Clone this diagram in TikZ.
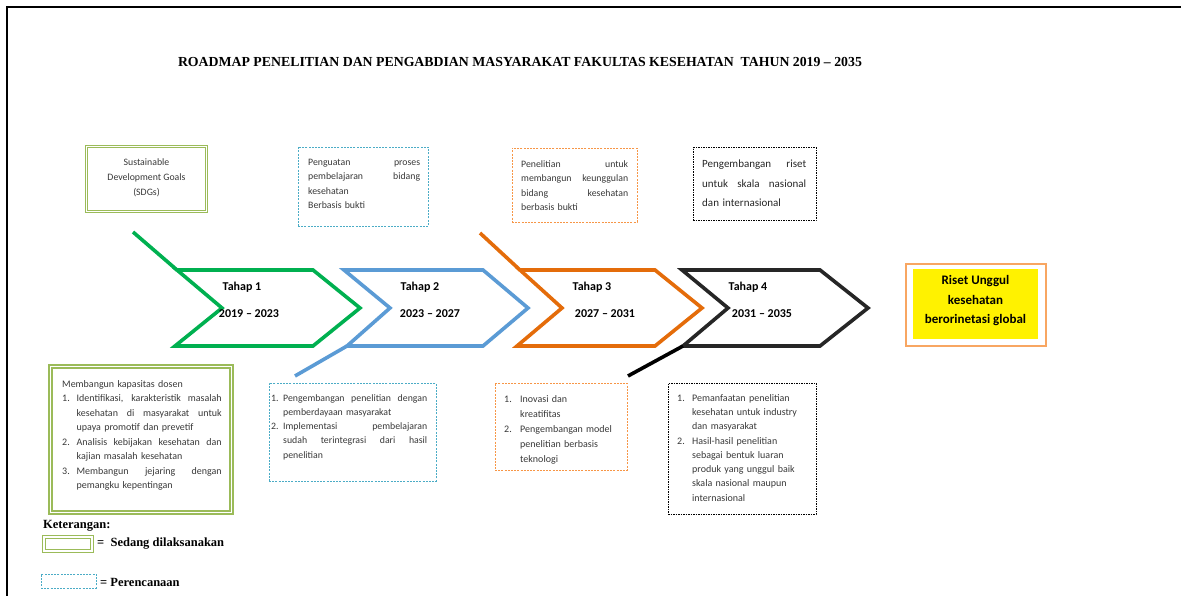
\documentclass[tikz,border=0pt]{standalone}
\usepackage{fontspec}
\setmainfont{Carlito}
\newfontfamily\serifb[Ligatures=TeX]{Liberation Serif}
\definecolor{cgreen}{HTML}{00B050}
\definecolor{cblue}{HTML}{5B9BD5}
\definecolor{corange}{HTML}{E46C0A}
\definecolor{cblack}{HTML}{262626}
\definecolor{olive}{HTML}{9BBB59}
\definecolor{aqua}{HTML}{4BACC6}
\definecolor{lorange}{HTML}{F79646}
\definecolor{gtext}{HTML}{383838}
\newcommand{\fs}[2]{\fontsize{#1}{#2}\selectfont}
\newcommand{\J}[2]{\leavevmode\hbox to #1{\spaceskip=0.22em plus 1fil\relax #2}}
\begin{document}
\begin{tikzpicture}[x=1pt,y=-1pt,
  chev/.style={line width=3.6pt},
  dbox/.style={draw=#1,line width=0.9pt,dash pattern=on 2pt off 1.2pt},
  txt/.style={inner sep=0pt,anchor=north west,align=left,text=gtext},
  tlabel/.style={inner sep=0pt,font=\bfseries\fs{12}{14},text=black},
  leg/.style={inner sep=0pt,anchor=west,font=\serifb\bfseries\fs{12.5}{14}}]
\useasboundingbox (0,0) rectangle (1181,596);
% frame
\draw[line width=2.5pt] (7,596) -- (7,7) -- (1181,7);
% title
\node[inner sep=0pt] (title) at (520,62) {\resizebox{684pt}{!}{\serifb\bfseries ROADMAP PENELITIAN DAN PENGABDIAN MASYARAKAT FAKULTAS KESEHATAN \ TAHUN 2019 – 2035}};
% top boxes
\node[draw=olive,line width=1.3pt,double=white,double distance=1.2pt,minimum width=120pt,minimum height=65pt,inner sep=0pt] (sdg) at (146.5,179) {};
\node[inner sep=0pt,align=center,font=\fs{9.8}{14.8},text=gtext] (sdgt) at (146.5,178) {Sustainable\\Development Goals\\(SDGs)};
\node[dbox=aqua,minimum width=130pt,minimum height=79pt,inner sep=0pt] (pb) at (363,186.5) {};
\node[txt,text width=112pt,font=\fs{9.8}{14.4}] (pbt) at (308,159) {\J{112pt}{Penguatan proses}\\\J{112pt}{pembelajaran bidang}\\kesehatan\\Berbasis bukti};
\node[dbox=lorange,minimum width=125pt,minimum height=74pt,inner sep=0pt] (po) at (574.5,185) {};
\node[txt,text width=107pt,font=\fs{9.8}{14.6}] (pot) at (521,160) {\J{107pt}{Penelitian untuk}\\\J{107pt}{membangun keunggulan}\\\J{107pt}{bidang kesehatan}\\berbasis bukti};
\node[draw=black,line width=1pt,dash pattern=on 1.5pt off 1pt,minimum width=123pt,minimum height=73pt,inner sep=0pt] (pk) at (754.5,184.5) {};
\node[txt,text width=104pt,font=\fs{11}{19.5},text=black!85] (pkt) at (702,160) {\J{104pt}{Pengembangan riset}\\\J{104pt}{untuk skala nasional}\\dan internasional};
% chevrons
\draw[chev,draw=cgreen] (177,270) -- (313,270) -- (360,308) -- (313,346) -- (175,346) -- (222,308) -- cycle;
\draw[chev,draw=cgreen] (133,232) -- (177,270);
\draw[chev,draw=cblue] (344,270) -- (483,270) -- (528,308) -- (483,346) -- (347,346) -- (390,308) -- cycle;
\draw[chev,draw=cblue] (347,346) -- (295,376);
\draw[chev,draw=corange] (520,270) -- (655,270) -- (702,308) -- (655,346) -- (517,346) -- (562,308) -- cycle;
\draw[chev,draw=corange] (480,233) -- (520,270);
\draw[chev,draw=cblack] (682,270) -- (820,270) -- (868,308) -- (820,346) -- (683,346) -- (728,308) -- cycle;
\draw[chev,draw=black] (628,376) -- (683,346);
\node[tlabel] (t1) at (242,287) {Tahap 1};
\node[tlabel] (y1) at (249,314) {2019 – 2023};
\node[tlabel] (t2) at (420,287) {Tahap 2};
\node[tlabel] (y2) at (430,314) {2023 – 2027};
\node[tlabel] (t3) at (592,287) {Tahap 3};
\node[tlabel] (y3) at (605,314) {2027 – 2031};
\node[tlabel] (t4) at (748,287) {Tahap 4};
\node[tlabel] (y4) at (762,314) {2031 – 2035};
% goal
\node[draw=lorange!85,line width=2.2pt,minimum width=140pt,minimum height=82pt,inner sep=0pt] (goal) at (976,305) {};
\node[fill=yellow,minimum width=125pt,minimum height=70pt,inner sep=0pt] (goalin) at (975.5,304) {};
\node[inner sep=0pt,align=center,font=\bfseries\fs{13}{19.5}] (goalt) at (975.5,301) {Riset Unggul\\kesehatan\\berorinetasi global};
% bottom boxes
\node[draw=olive,line width=1.8pt,double=white,double distance=1.2pt,minimum width=181pt,minimum height=146pt,inner sep=0pt] (bg) at (141,439.5) {};
\node[txt,text width=160pt,font=\fs{10}{14.5}] (bgt) at (62,380) {Membangun kapasitas dosen\\
\makebox[14.5pt][l]{1.}\J{145pt}{Identifikasi, karakteristik masalah}\\
\hspace*{14.5pt}\J{145pt}{kesehatan di masyarakat untuk}\\
\hspace*{14.5pt}upaya promotif dan prevetif\\
\makebox[14.5pt][l]{2.}\J{145pt}{Analisis kebijakan kesehatan dan}\\
\hspace*{14.5pt}kajian masalah kesehatan\\
\makebox[14.5pt][l]{3.}\J{145pt}{Membangun jejaring dengan}\\
\hspace*{14.5pt}pemangku kepentingan};
\node[dbox=aqua,minimum width=167pt,minimum height=98pt,inner sep=0pt] (bb) at (352.5,432) {};
\node[txt,text width=160pt,font=\fs{9.8}{14.3}] (bbt) at (271,394) {\makebox[12pt][l]{1.}\J{144pt}{Pengembangan penelitian dengan}\\
\hspace*{12pt}pemberdayaan masyarakat\\
\makebox[12pt][l]{2.}\J{144pt}{Implementasi pembelajaran}\\
\hspace*{12pt}\J{144pt}{sudah terintegrasi dari hasil}\\
\hspace*{12pt}penelitian};
\node[dbox=lorange,minimum width=132pt,minimum height=87pt,inner sep=0pt] (bo) at (561,426.5) {};
\node[txt,text width=120pt,font=\fs{10}{15.2}] (bot) at (504,395) {\makebox[16pt][l]{1.}Inovasi dan\\
\hspace*{16pt}kreatifitas\\
\makebox[16pt][l]{2.}Pengembangan model\\
\hspace*{16pt}penelitian berbasis\\
\hspace*{16pt}teknologi};
\node[draw=black,line width=1pt,dash pattern=on 1.5pt off 1pt,minimum width=148pt,minimum height=131pt,inner sep=0pt] (bk) at (742,448.5) {};
\node[txt,text width=135pt,font=\fs{10}{14.3}] (bkt) at (677,394) {\makebox[15pt][l]{1.}Pemanfaatan penelitian\\
\hspace*{15pt}kesehatan untuk industry\\
\hspace*{15pt}dan masyarakat\\
\makebox[15pt][l]{2.}Hasil-hasil penelitian\\
\hspace*{15pt}sebagai bentuk luaran\\
\hspace*{15pt}produk yang unggul baik\\
\hspace*{15pt}skala nasional maupun\\
\hspace*{15pt}internasional};
% legend
\node[leg] (ket) at (43,526) {Keterangan:};
\node[draw=olive,line width=1.6pt,double=white,double distance=1.4pt,minimum width=48pt,minimum height=14pt,inner sep=0pt] (lg) at (68,544) {};
\node[leg] (lgt) at (97,544) {= \ Sedang dilaksanakan};
\node[dbox=aqua,minimum width=55pt,minimum height=14pt,inner sep=0pt] (lb) at (68.5,581) {};
\node[leg] (lbt) at (100,582) {= Perencanaan};
\end{tikzpicture}
\end{document}
